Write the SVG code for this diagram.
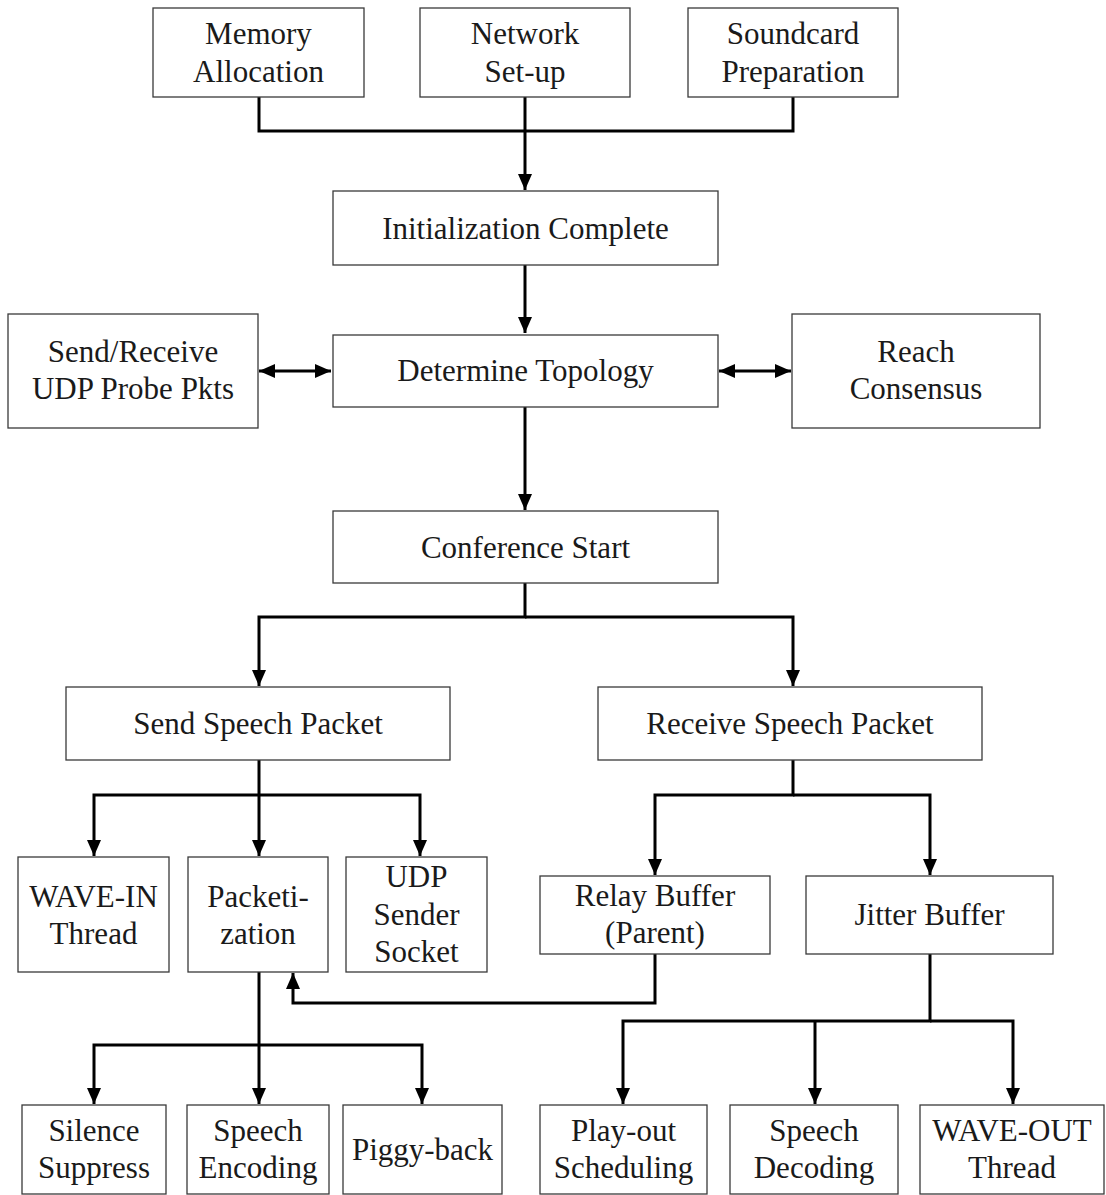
<svg xmlns="http://www.w3.org/2000/svg" width="1106" height="1195" viewBox="0 0 1106 1195">
  <style>
    .box { fill: #ffffff; stroke: #3a3a3a; stroke-width: 1.3; }
    .lbl { font-family: "Liberation Serif", "Times New Roman", serif; font-size: 31px; fill: #1a1a1a; text-anchor: middle; }
    .wire { fill: none; stroke: #000000; stroke-width: 3; stroke-linejoin: miter; }
  </style>
  <defs>
    <marker id="head" markerUnits="userSpaceOnUse" markerWidth="16" markerHeight="14" refX="16" refY="7" orient="auto-start-reverse">
      <path d="M0,0 L16,7 L0,14 Z" fill="#000000"/>
    </marker>
  </defs>

  <rect width="1106" height="1195" fill="#ffffff"/>

  <!-- connectors -->
  <g id="connectors">
    <!-- initialization tasks merge -->
    <path class="wire" d="M259,97 V131 H793 V97"/>
    <path class="wire" d="M525,97 V190" marker-end="url(#head)"/>
    <path class="wire" d="M525,265 V333" marker-end="url(#head)"/>
    <!-- topology exchanges -->
    <path class="wire" d="M259,371 H331" marker-start="url(#head)" marker-end="url(#head)"/>
    <path class="wire" d="M719,371 H791" marker-start="url(#head)" marker-end="url(#head)"/>
    <path class="wire" d="M525,407 V510" marker-end="url(#head)"/>
    <!-- conference split -->
    <path class="wire" d="M525,583 V617 H259 V686" marker-end="url(#head)"/>
    <path class="wire" d="M525,617 H793 V686" marker-end="url(#head)"/>
    <!-- sender branch -->
    <path class="wire" d="M259,760 V856" marker-end="url(#head)"/>
    <path class="wire" d="M259,795 H94 V856" marker-end="url(#head)"/>
    <path class="wire" d="M259,795 H420 V856" marker-end="url(#head)"/>
    <!-- receiver branch -->
    <path class="wire" d="M793,760 V795 H655 V875" marker-end="url(#head)"/>
    <path class="wire" d="M793,795 H930 V875" marker-end="url(#head)"/>
    <!-- relay feedback into packetization -->
    <path class="wire" d="M655,954 V1003 H293 V973" marker-end="url(#head)"/>
    <!-- packetization stages -->
    <path class="wire" d="M259,972 V1104" marker-end="url(#head)"/>
    <path class="wire" d="M259,1045 H94 V1104" marker-end="url(#head)"/>
    <path class="wire" d="M259,1045 H422 V1104" marker-end="url(#head)"/>
    <!-- playback stages -->
    <path class="wire" d="M930,954 V1021 H623 V1104" marker-end="url(#head)"/>
    <path class="wire" d="M815,1021 V1104" marker-end="url(#head)"/>
    <path class="wire" d="M930,1021 H1013 V1104" marker-end="url(#head)"/>
  </g>

  <g id="memory-allocation">
    <rect class="box" x="153" y="8" width="211" height="89"/>
    <text class="lbl" x="258.5" y="44">Memory</text>
    <text class="lbl" x="258.5" y="82">Allocation</text>
  </g>
  <g id="network-setup">
    <rect class="box" x="420" y="8" width="210" height="89"/>
    <text class="lbl" x="525" y="44">Network</text>
    <text class="lbl" x="525" y="82">Set-up</text>
  </g>
  <g id="soundcard-preparation">
    <rect class="box" x="688" y="8" width="210" height="89"/>
    <text class="lbl" x="793" y="44">Soundcard</text>
    <text class="lbl" x="793" y="82">Preparation</text>
  </g>
  <g id="initialization-complete">
    <rect class="box" x="333" y="191" width="385" height="74"/>
    <text class="lbl" x="525.5" y="239">Initialization Complete</text>
  </g>
  <g id="send-receive-probe">
    <rect class="box" x="8" y="314" width="250" height="114"/>
    <text class="lbl" x="133" y="362">Send/Receive</text>
    <text class="lbl" x="133" y="399">UDP Probe Pkts</text>
  </g>
  <g id="determine-topology">
    <rect class="box" x="333" y="335" width="385" height="72"/>
    <text class="lbl" x="525.5" y="381">Determine Topology</text>
  </g>
  <g id="reach-consensus">
    <rect class="box" x="792" y="314" width="248" height="114"/>
    <text class="lbl" x="916" y="362">Reach</text>
    <text class="lbl" x="916" y="399">Consensus</text>
  </g>
  <g id="conference-start">
    <rect class="box" x="333" y="511" width="385" height="72"/>
    <text class="lbl" x="525.5" y="558">Conference Start</text>
  </g>
  <g id="send-speech-packet">
    <rect class="box" x="66" y="687" width="384" height="73"/>
    <text class="lbl" x="258" y="734">Send Speech Packet</text>
  </g>
  <g id="receive-speech-packet">
    <rect class="box" x="598" y="687" width="384" height="73"/>
    <text class="lbl" x="790" y="734">Receive Speech Packet</text>
  </g>
  <g id="wave-in-thread">
    <rect class="box" x="18" y="857" width="151" height="115"/>
    <text class="lbl" x="93.5" y="907">WAVE-IN</text>
    <text class="lbl" x="93.5" y="944">Thread</text>
  </g>
  <g id="packetization">
    <rect class="box" x="188" y="857" width="140" height="115"/>
    <text class="lbl" x="258" y="907">Packeti-</text>
    <text class="lbl" x="258" y="944">zation</text>
  </g>
  <g id="udp-sender-socket">
    <rect class="box" x="346" y="857" width="141" height="115"/>
    <text class="lbl" x="416.5" y="887">UDP</text>
    <text class="lbl" x="416.5" y="925">Sender</text>
    <text class="lbl" x="416.5" y="962">Socket</text>
  </g>
  <g id="relay-buffer">
    <rect class="box" x="540" y="876" width="230" height="78"/>
    <text class="lbl" x="655" y="906">Relay Buffer</text>
    <text class="lbl" x="655" y="943">(Parent)</text>
  </g>
  <g id="jitter-buffer">
    <rect class="box" x="806" y="876" width="247" height="78"/>
    <text class="lbl" x="929.5" y="925">Jitter Buffer</text>
  </g>
  <g id="silence-suppress">
    <rect class="box" x="22" y="1105" width="144" height="89"/>
    <text class="lbl" x="94" y="1141">Silence</text>
    <text class="lbl" x="94" y="1178">Suppress</text>
  </g>
  <g id="speech-encoding">
    <rect class="box" x="187" y="1105" width="142" height="89"/>
    <text class="lbl" x="258" y="1141">Speech</text>
    <text class="lbl" x="258" y="1178">Encoding</text>
  </g>
  <g id="piggy-back">
    <rect class="box" x="343" y="1105" width="159" height="89"/>
    <text class="lbl" x="422.5" y="1160">Piggy-back</text>
  </g>
  <g id="playout-scheduling">
    <rect class="box" x="540" y="1105" width="167" height="89"/>
    <text class="lbl" x="623.5" y="1141">Play-out</text>
    <text class="lbl" x="623.5" y="1178">Scheduling</text>
  </g>
  <g id="speech-decoding">
    <rect class="box" x="730" y="1105" width="168" height="89"/>
    <text class="lbl" x="814" y="1141">Speech</text>
    <text class="lbl" x="814" y="1178">Decoding</text>
  </g>
  <g id="wave-out-thread">
    <rect class="box" x="920" y="1105" width="184" height="89"/>
    <text class="lbl" x="1012" y="1141">WAVE-OUT</text>
    <text class="lbl" x="1012" y="1178">Thread</text>
  </g>
</svg>
